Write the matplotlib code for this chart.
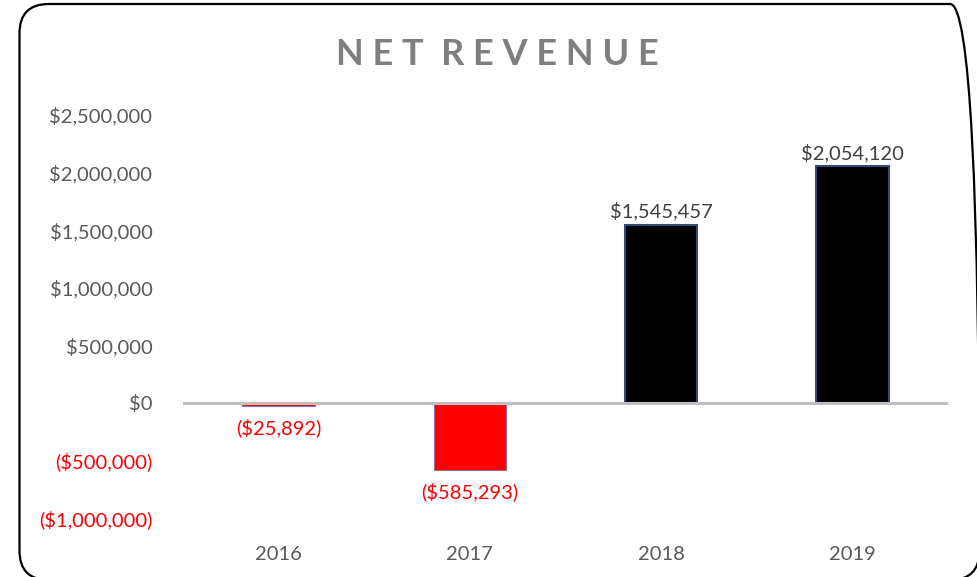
import matplotlib.pyplot as plt
import matplotlib.ticker as plticker
from matplotlib.patches import FancyBboxPatch

years = ['2016', '2017', '2018', '2019']
net_revenue = [-25892, -585293, 1545457, 2054120]
y_ticks = [-1000000, -500000, 0, 500000, 1000000, 1500000, 2000000, 2500000]

FONT = 'Lato'
GREY = '#595959'
RED = '#ff0000'


def money(v):
    s = '${:,.0f}'.format(abs(v))
    return '(' + s + ')' if v < 0 else s


fig = plt.figure(figsize=(9.78, 5.77), dpi=100)
ax = fig.add_axes([0.1871, 0.1023, 0.7822, 0.6984])

# rounded chart border, right and bottom edges sit just outside the image
border = FancyBboxPatch((19.5 / 978, -3 / 577), 960 / 978, 576 / 577,
                        boxstyle='round,pad=0,rounding_size=0.03',
                        transform=fig.transFigure, facecolor='none',
                        edgecolor='black', linewidth=1.6, clip_on=False,
                        mutation_aspect=978 / 577)
fig.patches.append(border)

x = list(range(len(years)))
for xi, v in zip(x, net_revenue):
    if v < 0:
        ax.bar(xi, v, width=0.38, color=RED, edgecolor='#9a6a9a', linewidth=0.8, zorder=2)
        ax.annotate(money(v), (xi, v), xytext=(0, -9), textcoords='offset points',
                    ha='center', va='top', color=RED, fontsize=14.5, family=FONT)
    else:
        ax.bar(xi, v, width=0.38, color='black', edgecolor='#2f4d78', linewidth=1.5, zorder=2)
        ax.annotate(money(v), (xi, v), xytext=(0, 3), textcoords='offset points',
                    ha='center', va='bottom', color='#404040', fontsize=14.5, family=FONT)

ax.axhline(0, color='#bfbfbf', linewidth=2.2, zorder=3)

ax.set_xlim(-0.5, 3.5)
ax.set_ylim(-1000000, 2500000)
ax.set_yticks(y_ticks)
ax.yaxis.set_major_formatter(plticker.FuncFormatter(lambda v, p: money(v)))
ax.set_xticks(x)
ax.set_xticklabels(years)

for s in ax.spines.values():
    s.set_visible(False)
ax.tick_params(axis='both', length=0, labelsize=14.5)
ax.tick_params(axis='y', pad=22)
ax.tick_params(axis='x', pad=20)

for lab in ax.get_yticklabels():
    lab.set_family(FONT)
    lab.set_color(RED if lab.get_text().startswith('(') else GREY)
for lab in ax.get_xticklabels():
    lab.set_family(FONT)
    lab.set_color(GREY)

fig.text(0.509, 0.905, 'N E T  R E V E N U E', ha='center', va='center',
         fontsize=26, fontweight='bold', color='#7f7f7f', family=FONT)

fig.savefig('out.png', dpi=100)
